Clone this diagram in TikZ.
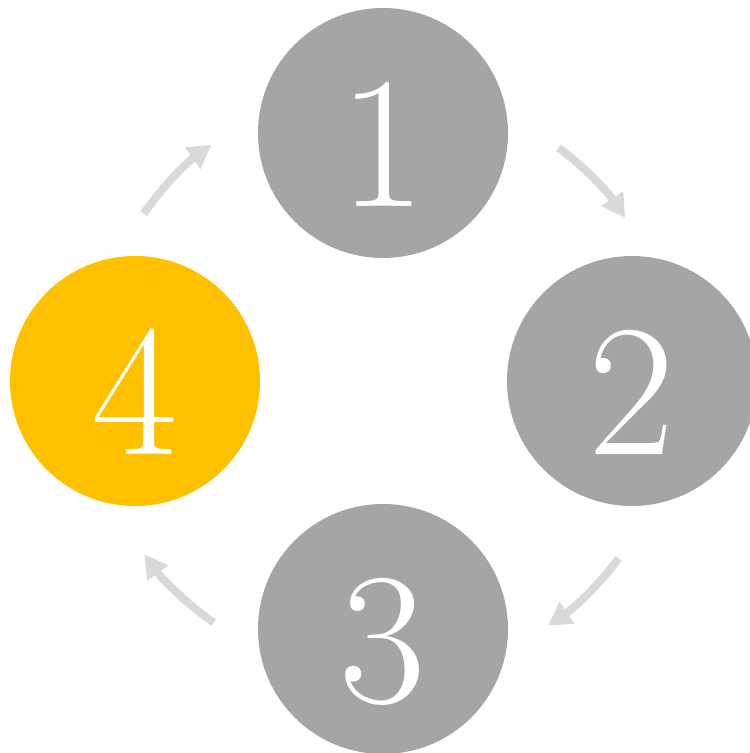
\documentclass[tikz,border=0pt]{standalone}
\usetikzlibrary{arrows.meta}
\definecolor{cgray}{HTML}{A5A5A5}
\definecolor{cyellow}{HTML}{FFC000}
\definecolor{agray}{HTML}{D9D9D9}
\begin{document}
\begin{tikzpicture}[x=1pt,y=1pt,
  stage/.style={circle,fill=cgray,draw=none,minimum size=250pt,inner sep=0pt,
    text=white,font=\fontsize{188}{188}\selectfont,text height=148pt,text depth=0pt},
  hl/.style={fill=cyellow},
  cyc/.style={draw=agray,line width=8pt,-{Triangle[length=23pt,width=25pt]}}]
\useasboundingbox (0,0) rectangle (750,753);
\coordinate (c) at (383,372);
\node[stage] (n1) at (383,620) {1};
\node[stage] (n2) at (632,372) {2};
\node[stage] (n3) at (383,124) {3};
\node[stage,hl] (n4) at (135,372) {4};
\draw[cyc] ([shift={(53:292)}]c) arc[start angle=53,end angle=34,radius=292];
\draw[cyc] ([shift={(-37:295)}]c) arc[start angle=-37,end angle=-56,radius=295];
\draw[cyc] ([shift={(-125:295)}]c) arc[start angle=-125,end angle=-144,radius=295];
\draw[cyc] ([shift={(145:292)}]c) arc[start angle=145,end angle=126,radius=292];
\end{tikzpicture}
\end{document}
